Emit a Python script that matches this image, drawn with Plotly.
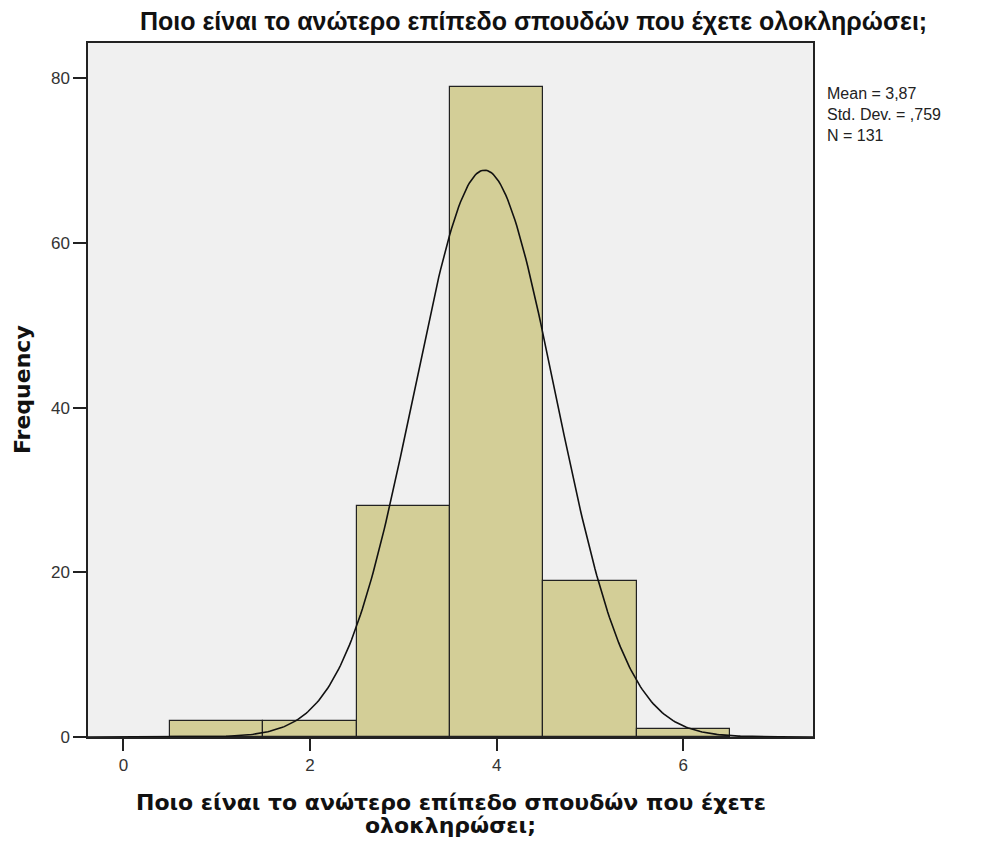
import numpy as np
import plotly.graph_objects as go

# Data
categories = [1, 2, 3, 4, 5, 6]
frequencies = [2, 2, 28, 79, 19, 1]
mean_val = 3.87
std_val = 0.759
n_val = 131

title_text = "Ποιο είναι το ανώτερο επίπεδο σπουδών που έχετε ολοκληρώσει;"
x_title_lines = ["Ποιο είναι το ανώτερο επίπεδο σπουδών που έχετε", "ολοκληρώσει;"]
y_title = "Frequency"
stats_lines = ["Mean = 3,87", "Std. Dev. = ,759", "N = 131"]
x_ticks = [0, 2, 4, 6]
y_ticks = [0, 20, 40, 60, 80]

x_range = [-0.38, 7.39]
y_range = [0, 84.3]

# fitted normal curve (as drawn by the stats package)
xs = np.linspace(x_range[0], x_range[1], 400)
ys = n_val * 1.0 / (std_val * np.sqrt(2 * np.pi)) * np.exp(-0.5 * ((xs - mean_val) / std_val) ** 2)

fig = go.Figure()
fig.add_trace(go.Bar(
    x=categories, y=frequencies, width=1,
    marker=dict(color="#D3CE97", line=dict(color="#222222", width=1.2)),
    hoverinfo="x+y", showlegend=False,
))
fig.add_trace(go.Scatter(
    x=xs, y=ys, mode="lines",
    line=dict(color="#111111", width=1.6), showlegend=False, hoverinfo="skip",
))

W, H = 974, 835
fig.update_layout(
    width=W, height=H,
    margin=dict(l=80, r=169, t=35, b=106),
    paper_bgcolor="white", plot_bgcolor="#F0F0F0",
    font=dict(family="Liberation Sans, Arial, sans-serif", color="#222222"),
    bargap=0,
)
fig.update_xaxes(
    range=x_range, tickmode="array", tickvals=x_ticks, ticktext=[str(t) for t in x_ticks],
    ticks="outside", ticklen=12, tickwidth=1.5, tickcolor="#222222",
    showgrid=False, zeroline=False, showline=True, linecolor="#222222", linewidth=1.5, mirror=True,
    tickfont=dict(size=17, color="#333333"),
)
fig.update_yaxes(
    range=y_range, tickmode="array", tickvals=y_ticks, ticktext=[str(t) for t in y_ticks],
    ticks="outside", ticklen=13, tickwidth=1.5, tickcolor="#222222",
    showgrid=False, zeroline=False, showline=True, linecolor="#222222", linewidth=1.5, mirror=True,
    tickfont=dict(size=17, color="#333333"),
)
fig.add_annotation(
    text="<b>" + title_text + "</b>", xref="paper", yref="paper", x=0.615, y=1.031,
    xanchor="center", yanchor="middle", showarrow=False,
    font=dict(family="Liberation Sans", size=25, color="#111111"),
)
for line, yy in zip(x_title_lines, [-0.0951, -0.1282]):
    fig.add_annotation(
        text=line, xref="paper", yref="paper", x=0.5, y=yy,
        xanchor="center", yanchor="middle", align="center", showarrow=False,
        font=dict(family="DejaVu Sans", size=22, color="#111111", weight="bold"),
    )
fig.add_annotation(
    text=y_title, xref="paper", yref="paper", x=-0.091, y=0.5, textangle=-90,
    xanchor="center", yanchor="middle", showarrow=False,
    font=dict(family="DejaVu Sans", size=22, color="#111111", weight="bold"),
)
fig.add_annotation(
    text="<br>".join(stats_lines), xref="paper", yref="paper", x=1.0166, y=0.943,
    xanchor="left", yanchor="top", align="left", showarrow=False,
    font=dict(family="Liberation Sans, Arial", size=16, color="#222222"),
)

fig.write_html("out.html")
